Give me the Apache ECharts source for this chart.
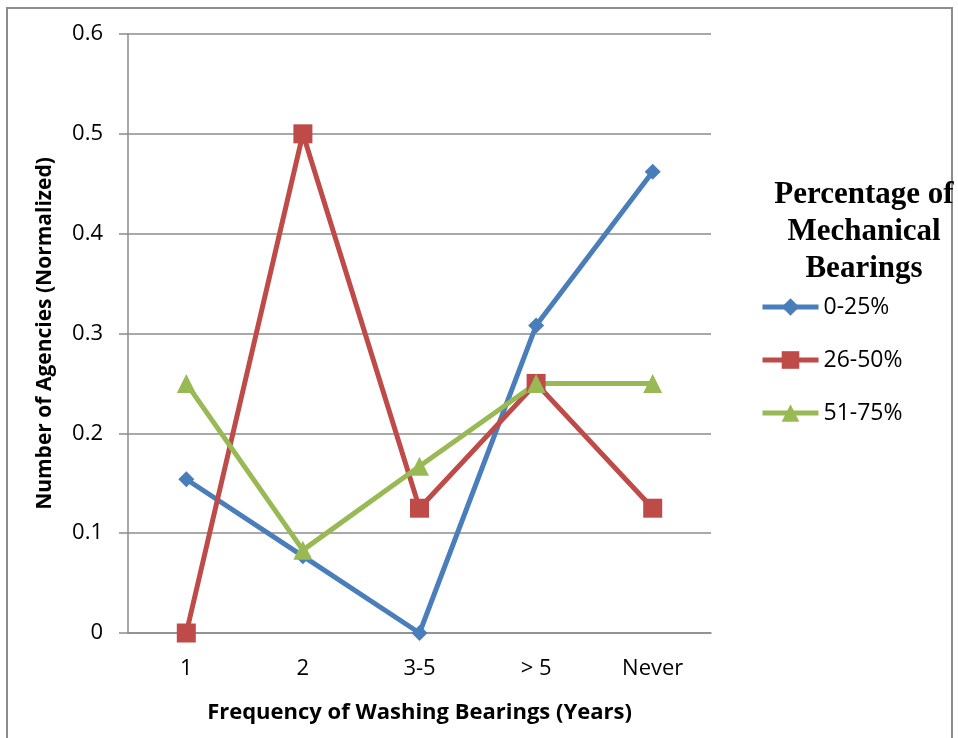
<!DOCTYPE html>
<html><head><meta charset="utf-8">
<script src="https://cdn.jsdelivr.net/npm/echarts@6/dist/echarts.min.js"></script>
<style>html,body{margin:0;padding:0;background:#fff}#c{width:958px;height:738px}</style>
</head><body><div id="c"></div>
<script>
var categories = ['1', '2', '3-5', '> 5', 'Never'];
var s0_25 = [0.154, 0.077, 0, 0.308, 0.462];
var s26_50 = [0, 0.5, 0.125, 0.25, 0.125];
var s51_75 = [0.25, 0.083, 0.167, 0.25, 0.25];
var seriesNames = ['0-25%', '26-50%', '51-75%'];
var yTicks = [0, 0.1, 0.2, 0.3, 0.4, 0.5, 0.6];

var chart = echarts.init(document.getElementById('c'));
var font = "'Open Sans', 'Liberation Sans', sans-serif";
function mk(name, data, color, symbol, size) {
  return {
    name: name, type: 'line', data: data, symbol: symbol, symbolSize: size,
    lineStyle: {width: 5, color: color}, itemStyle: {color: color},
    showAllSymbol: true, animation: false, z: 3
  };
}
chart.setOption({
  animation: false,
  backgroundColor: '#fff',
  graphic: [{type: 'rect', shape: {x: 7, y: 8, width: 945, height: 740},
    style: {fill: 'none', stroke: '#8c8c8c', lineWidth: 2}}],
  title: {
    text: 'Percentage of\nMechanical\nBearings',
    left: 859, top: 171, textAlign: 'center',
    textStyle: {fontFamily: "'Liberation Serif', 'DejaVu Serif', serif", fontWeight: 'bold', fontSize: 31, lineHeight: 37, color: '#000'}
  },
  legend: {
    orient: 'vertical', left: 760, top: 295, padding: 0,
    itemWidth: 56, itemHeight: 22, itemGap: 29,
    data: seriesNames,
    lineStyle: {width: 5},
    textStyle: {fontFamily: font, fontSize: 23, lineHeight: 24, color: '#000'}
  },
  grid: {left: 128, top: 34, right: 247, bottom: 105},
  xAxis: {
    type: 'category', data: categories, boundaryGap: true,
    axisLine: {lineStyle: {color: '#8c8c8c', width: 1.5}},
    axisTick: {show: false},
    axisLabel: {fontFamily: font, fontSize: 22, color: '#000', margin: 25},
    name: 'Frequency of Washing Bearings (Years)', nameLocation: 'middle', nameGap: 69,
    nameTextStyle: {fontFamily: font, fontSize: 22, fontWeight: 'bold', color: '#000'}
  },
  yAxis: {
    type: 'value', min: 0, max: 0.6, interval: 0.1,
    axisLine: {show: true, lineStyle: {color: '#8c8c8c', width: 1.5}},
    axisTick: {show: true, length: 9, lineStyle: {color: '#8c8c8c', width: 1.5}},
    splitLine: {lineStyle: {color: '#8c8c8c', width: 1.5}},
    axisLabel: {fontFamily: font, fontSize: 22, color: '#000', margin: 25,
      formatter: function (v) { return String(Math.round(v * 10) / 10); }},
    name: 'Number of Agencies (Normalized)', nameLocation: 'middle', nameGap: 72,
    nameTextStyle: {fontFamily: font, fontSize: 21, fontWeight: 'bold', color: '#000'}
  },
  series: [
    mk(seriesNames[0], s0_25, '#4A7EBB', 'diamond', 16),
    mk(seriesNames[1], s26_50, '#BE4B48', 'rect', 19),
    mk(seriesNames[2], s51_75, '#98B954', 'triangle', 19)
  ]
});
</script></body></html>
